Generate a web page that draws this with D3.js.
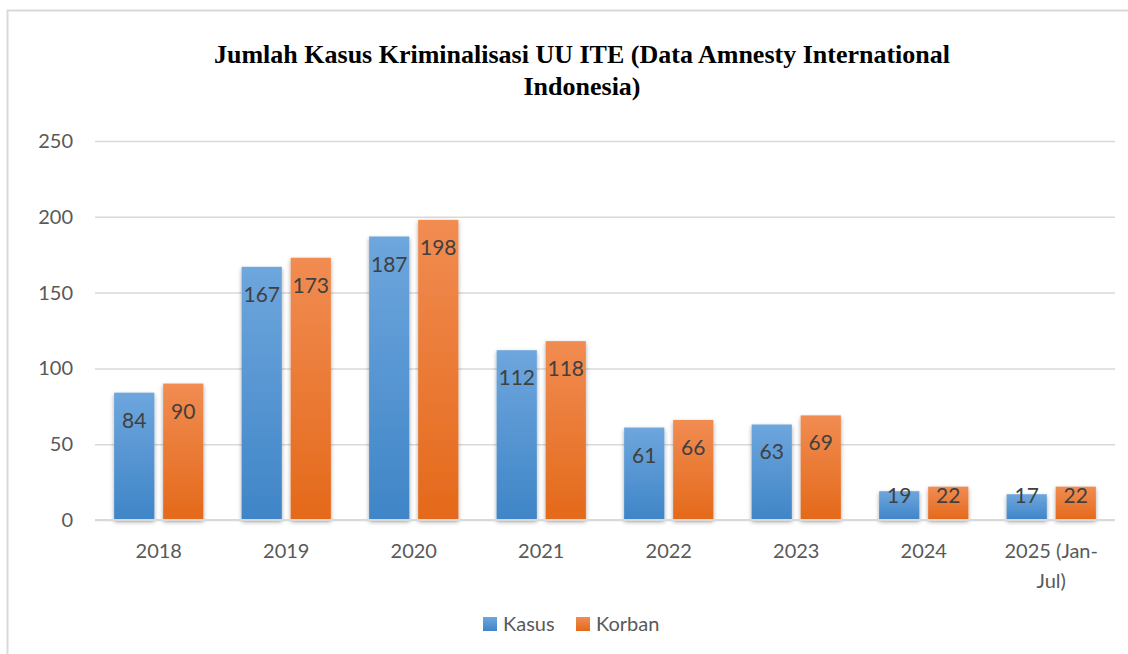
<!DOCTYPE html>
<html>
<head>
<meta charset="utf-8">
<script src="https://cdn.jsdelivr.net/npm/d3@7"></script>
<style>
  body { margin: 0; background: #fff; }
  svg { display: block; }
</style>
</head>
<body>
<svg id="chart"></svg>
<script>
// data ---------------------------------------------------------------
const years = ['2018', '2019', '2020', '2021', '2022', '2023', '2024', '2025 (Jan-Jul)'];
const kasus = [84, 167, 187, 112, 61, 63, 19, 17];
const korban = [90, 173, 198, 118, 66, 69, 22, 22];
const seriesNames = ['Kasus', 'Korban'];
const yTicks = [0, 50, 100, 150, 200, 250];

// size ---------------------------------------------------------------
const width = 1128;
const height = 654;
const svg = d3.select('#chart')
  .attr('width', width)
  .attr('height', height);

const plot = { left: 95, right: 1115, top: 141, bottom: 520 };

const x = d3.scaleBand()
  .domain(years)
  .range([plot.left, plot.right])
  .paddingInner(0.3)
  .paddingOuter(0.15);

const xs = d3.scaleBand()
  .domain(seriesNames)
  .range([0, x.bandwidth()])
  .paddingInner(0.18);

const y = d3.scaleLinear()
  .domain([0, 250])
  .range([plot.bottom, plot.top]);

// defs ---------------------------------------------------------------
const defs = svg.append('defs');

function grad(id, top, bottom) {
  const g = defs.append('linearGradient')
    .attr('id', id)
    .attr('x1', 0).attr('y1', 0)
    .attr('x2', 0).attr('y2', 1);
  g.append('stop').attr('offset', '0%').attr('stop-color', top);
  g.append('stop').attr('offset', '100%').attr('stop-color', bottom);
}
grad('g-kasus', '#6ea6dd', '#3f85c7');
grad('g-korban', '#f18c52', '#e4691a');

const shadow = defs.append('filter')
  .attr('id', 'shadow')
  .attr('x', '-20%').attr('y', '-10%')
  .attr('width', '140%').attr('height', '130%');
shadow.append('feDropShadow')
  .attr('dx', 0).attr('dy', 2)
  .attr('stdDeviation', 2)
  .attr('flood-color', '#000')
  .attr('flood-opacity', 0.35);

// frame --------------------------------------------------------------
svg.append('path')
  .attr('d', `M7.5,${height + 5} V10.5 H${width + 5}`)
  .attr('fill', 'none')
  .attr('stroke', '#d9d9d9')
  .attr('stroke-width', 2);

// title --------------------------------------------------------------
const title = svg.append('text')
  .attr('text-anchor', 'middle')
  .attr('font-family', '"Liberation Serif", serif')
  .attr('font-weight', 'bold')
  .attr('font-size', 26)
  .attr('fill', '#000');
title.append('tspan').attr('x', 582).attr('y', 63)
  .text('Jumlah Kasus Kriminalisasi UU ITE (Data Amnesty International');
title.append('tspan').attr('x', 582).attr('y', 95)
  .text('Indonesia)');

// grid + y axis ------------------------------------------------------
const yAxis = svg.append('g')
  .attr('transform', `translate(${plot.left},0)`)
  .call(d3.axisLeft(y).tickValues(yTicks).tickSize(-(plot.right - plot.left)).tickPadding(22));
yAxis.select('.domain').remove();
yAxis.selectAll('.tick line')
  .attr('stroke', '#d9d9d9')
  .attr('stroke-width', 1.5);
yAxis.selectAll('.tick text')
  .attr('font-family', 'Lato, sans-serif')
  .attr('font-size', 20)
  .attr('fill', '#595959');

// bars ---------------------------------------------------------------
const rows = years.map((yr, i) => ({ year: yr, vals: [kasus[i], korban[i]] }));

const groups = svg.append('g')
  .selectAll('g')
  .data(rows)
  .enter().append('g')
  .attr('transform', d => `translate(${x(d.year)},0)`);

groups.selectAll('rect')
  .data(d => d.vals.map((v, j) => ({ name: seriesNames[j], value: v })))
  .enter().append('rect')
  .attr('x', d => xs(d.name))
  .attr('y', d => y(d.value))
  .attr('width', xs.bandwidth())
  .attr('height', d => y(0) - y(d.value))
  .attr('fill', d => d.name === 'Kasus' ? 'url(#g-kasus)' : 'url(#g-korban)')
  .attr('filter', 'url(#shadow)');

// labels sit inside the top; short bars keep them above the baseline
groups.selectAll('text.val')
  .data(d => d.vals.map((v, j) => ({ name: seriesNames[j], value: v })))
  .enter().append('text')
  .attr('class', 'val')
  .attr('x', d => xs(d.name) + xs.bandwidth() / 2)
  .attr('y', d => Math.min(y(d.value) + 35, y(0) - 17))
  .attr('text-anchor', 'middle')
  .attr('font-family', 'Lato, sans-serif')
  .attr('font-size', 21)
  .attr('fill', '#404040')
  .text(d => d.value);

// x axis -------------------------------------------------------------
svg.append('line')
  .attr('x1', plot.left).attr('x2', plot.right)
  .attr('y1', y(0)).attr('y2', y(0))
  .attr('stroke', '#d9d9d9')
  .attr('stroke-width', 2);

const xLabels = svg.append('g')
  .selectAll('text')
  .data(years)
  .enter().append('text')
  .attr('text-anchor', 'middle')
  .attr('font-family', 'Lato, sans-serif')
  .attr('font-size', 20)
  .attr('fill', '#595959');

xLabels.each(function (d) {
  const t = d3.select(this);
  const cx = x(d) + x.bandwidth() / 2;
  const lines = d === '2025 (Jan-Jul)' ? ['2025 (Jan-', 'Jul)'] : [d];
  lines.forEach((ln, k) => {
    t.append('tspan')
      .attr('x', cx)
      .attr('y', 558 + k * 30)
      .text(ln);
  });
});

// legend -------------------------------------------------------------
const legend = svg.append('g')
  .attr('transform', 'translate(483,617)');
const items = legend.selectAll('g')
  .data(seriesNames)
  .enter().append('g')
  .attr('transform', (d, i) => `translate(${i * 93},0)`);
items.append('rect')
  .attr('width', 14).attr('height', 14)
  .attr('fill', d => d === 'Kasus' ? 'url(#g-kasus)' : 'url(#g-korban)');
items.append('text')
  .attr('x', 20).attr('y', 14)
  .attr('font-family', 'Lato, sans-serif')
  .attr('font-size', 20)
  .attr('fill', '#595959')
  .text(d => d);
</script>
</body>
</html>
